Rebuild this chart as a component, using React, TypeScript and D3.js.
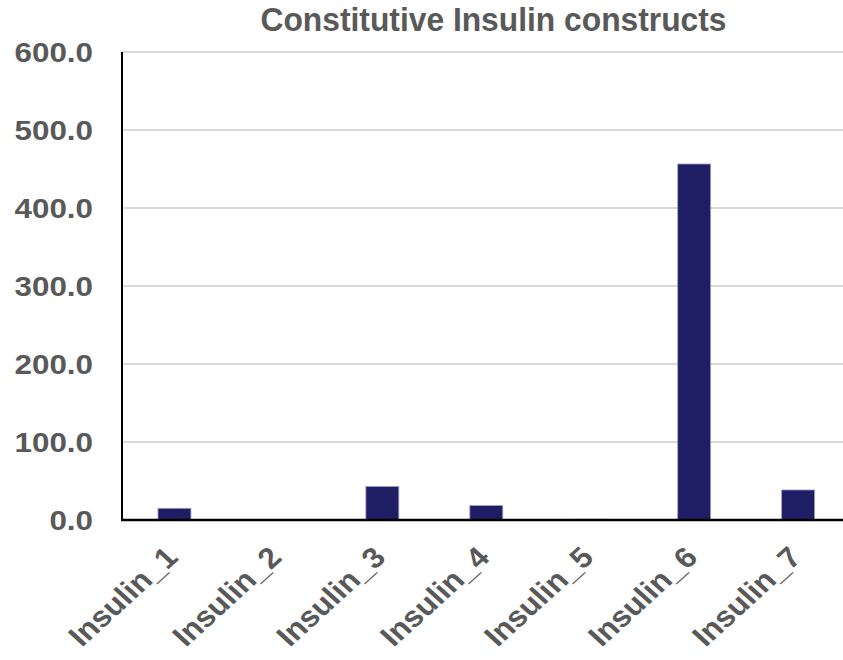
import React from "react";
import * as d3 from "d3";

const categories = ["Insulin_1", "Insulin_2", "Insulin_3", "Insulin_4", "Insulin_5", "Insulin_6", "Insulin_7"];
const values = [15, 0.2, 43, 18.5, 1, 456.4, 38.5];
const yTicks = [0, 100, 200, 300, 400, 500, 600];
const title = "Constitutive Insulin constructs";

const W = 843;
const H = 660;
const left = 122;
const top = 52;
const bottom = 520;
const textColor = "#595959";
const font = "'Liberation Sans', Arial, Helvetica, sans-serif";

export default function App() {
  const x = d3.scaleBand<string>().domain(categories).range([122.5, 850.1]).padding(0);
  const y = d3.scaleLinear().domain([0, 600]).range([bottom, top]);
  const barW = x.step() * 0.317;

  return (
    <svg width={W} height={H} style={{ position: "absolute", left: 0, top: 0, background: "#fff" }}>
      <rect x={0} y={0} width={W} height={H} fill="#fff" />
      <text
        x={493.5}
        y={30.7}
        textAnchor="middle"
        fontFamily={font}
        fontWeight="bold"
        fontSize={32.5}
        fill={textColor}
        textLength={466}
        lengthAdjust="spacingAndGlyphs"
      >
        {title}
      </text>
      {yTicks.map((t) =>
        t === 0 ? null : (
          <line key={"g" + t} x1={left} x2={W} y1={y(t)} y2={y(t)} stroke="#d9d9d9" strokeWidth={2} />
        )
      )}
      {categories.map((c, i) => {
        const cx = (x(c) as number) + x.bandwidth() / 2;
        const yv = y(values[i]);
        return (
          <rect
            key={c}
            x={cx - barW / 2}
            y={yv}
            width={barW}
            height={Math.max(0, bottom - yv)}
            fill="#1f1d63"
            stroke="#9ea2cc"
            strokeWidth={0.8}
          />
        );
      })}
      <line x1={left} x2={left} y1={top} y2={bottom + 1} stroke="#000" strokeWidth={2} />
      <line x1={left - 1} x2={W} y1={bottom} y2={bottom} stroke="#000" strokeWidth={2.5} />
      {yTicks.map((t) => (
        <text
          key={"t" + t}
          transform={`translate(93,${y(t) + 10.3}) scale(1.1,1)`}
          textAnchor="end"
          fontFamily={font}
          fontWeight="bold"
          fontSize={28.5}
          fill={textColor}
        >
          {d3.format(".1f")(t)}
        </text>
      ))}
      {categories.map((c) => {
        const cx = (x(c) as number) + x.bandwidth() / 2;
        return (
          <text
            key={"x" + c}
            transform={`translate(${cx + 5},${559}) scale(1.1,1) rotate(-45)`}
            textAnchor="end"
            fontFamily={font}
            fontWeight="bold"
            fontSize={29}
            fill={textColor}
          >
            {c}
          </text>
        );
      })}
    </svg>
  );
}
